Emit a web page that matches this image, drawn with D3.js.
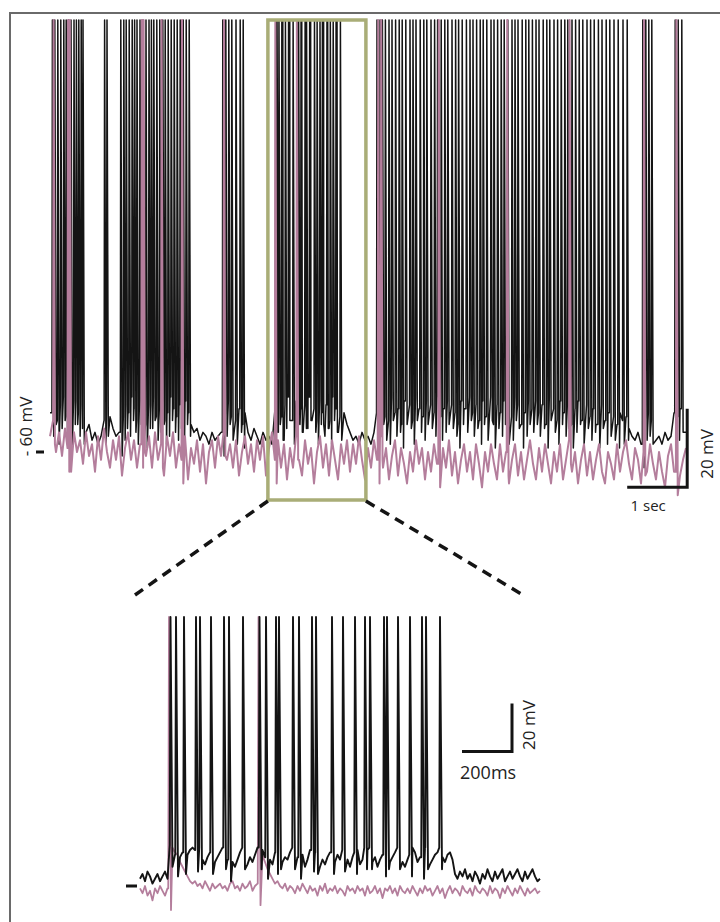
<!DOCTYPE html>
<html>
<head>
<meta charset="utf-8">
<script src="https://cdn.jsdelivr.net/npm/d3@7"></script>
<style>
  body { margin: 0; background: #fff; }
  svg { display: block; font-family: "Open Sans", "Liberation Sans", sans-serif; }
</style>
</head>
<body>
<script>
// ---- data: spike times (s) ----
// top trace, spikes outside the zoom window
let topBlackSpikes = [
  0.04, 0.08, 0.13, 0.18, 0.23, 0.27, 0.31, 0.35, 0.4, 0.44, 0.48, 0.52, 0.55,
  0.91, 0.95, 1.18, 1.23, 1.27, 1.32, 1.37, 1.41, 1.45, 1.5, 1.55, 1.6, 1.65, 1.69, 1.73,
  1.78, 1.83, 1.88, 1.92, 1.97, 2.02, 2.07, 2.12, 2.17, 2.22, 2.27, 2.32,
  2.88, 2.93, 2.98, 3.03, 3.1, 3.17, 3.22,
  5.45, 5.5, 5.54, 5.59, 5.65, 5.7, 5.76, 5.82, 5.87, 5.93, 6.0, 6.05, 6.1, 6.17, 6.23,
  6.28, 6.35, 6.41, 6.46, 6.52, 6.58, 6.63, 6.7, 6.76, 6.81, 6.87, 6.94, 7.0, 7.05, 7.11,
  7.17, 7.22, 7.28, 7.35, 7.4, 7.46, 7.52, 7.57, 7.63, 7.7, 7.75, 7.8, 7.87, 7.93, 7.98,
  8.04, 8.1, 8.15, 8.22, 8.28, 8.33, 8.4, 8.46, 8.52, 8.58, 8.63, 8.7, 8.76, 8.82, 8.88,
  8.95, 9.01, 9.07, 9.14, 9.2, 9.27, 9.33, 9.4, 9.47, 9.55, 9.62,
  9.88, 9.93, 9.98, 10.03, 10.42, 10.47, 10.53
];
let topPinkSpikes = [0.06, 0.3, 0.33, 1.53, 1.56, 1.86, 2.2, 2.9, 5.47, 5.52, 6.48, 7.62, 8.66, 9.9, 10.44];

// zoom window (green box), times relative to its start
let zoomStart = 3.64;
let zoomDur = 1.6;
let zoomBlackSpikes = [
  0.122, 0.144, 0.176, 0.224, 0.24, 0.284, 0.336, 0.356, 0.412, 0.478, 0.504, 0.544, 0.556,
  0.612, 0.636, 0.688, 0.704, 0.768, 0.812, 0.86, 0.9, 0.92, 0.976, 0.988, 1.032, 1.08,
  1.128, 1.144, 1.2
];
let zoomPinkSpikes = [0.116, 0.474];

// ---- data: membrane potential between spikes (mV) ----
let topBlackDt = 0.05;
let topBlackBase = [
  -50, -47, -52, -48, -46, -51, -49, -53, -47, -50,
  -48, -52, -55, -53, -57, -55, -58, -56, -52, -50,
  -51, -54, -56, -55, -51, -48, -50, -46, -49, -52,
  -47, -50, -53, -48, -46, -51, -49, -47, -52, -50,
  -46, -49, -51, -48, -52, -47, -50, -53, -55, -54,
  -57, -55, -56, -58, -55, -57, -56, -55, -50, -47,
  -51, -48, -52, -49, -53, -50, -55, -57, -54, -56,
  -58, -55, -57, -56, -58, -49, -47, -51, -48, -46,
  -50, -52, -47, -49, -53, -48, -46, -51, -49, -52,
  -47, -50, -48, -52, -46, -49, -51, -48, -50, -53,
  -55, -57, -56, -58, -55, -57, -56, -58, -55, -50,
  -47, -51, -48, -52, -46, -50, -49, -53, -47, -50,
  -48, -52, -46, -49, -51, -47, -53, -48, -50, -46,
  -51, -49, -47, -52, -48, -50, -53, -47, -49, -51,
  -46, -50, -48, -52, -47, -51, -49, -46, -53, -48,
  -50, -47, -52, -49, -51, -46, -48, -53, -50, -47,
  -49, -52, -47, -50, -48, -53, -46, -51, -49, -52,
  -47, -50, -48, -51, -53, -49, -47, -52, -50, -48,
  -51, -49, -53, -50, -48, -52, -50, -54, -51, -53,
  -50, -52, -51, -54, -56, -57, -55, -58, -51, -50,
  -52, -55, -57, -56, -58, -55, -57, -56, -50, -51,
  -49, -53, -55
];
let topPinkDt = 0.05;
let topPinkBase = [
  -56, -52, -60, -55, -61, -54, -59, -63, -55, -60,
  -57, -63, -55, -61, -58, -65, -56, -62, -54, -60,
  -64, -57, -62, -56, -66, -59, -55, -62, -57, -64,
  -58, -54, -61, -56, -64, -55, -62, -58, -66, -56,
  -61, -55, -64, -58, -62, -56, -67, -59, -63, -57,
  -65, -58, -68, -60, -57, -64, -56, -61, -55, -62,
  -58, -64, -57, -66, -60, -56, -63, -58, -65, -57,
  -62, -56, -66, -59, -55, -62, -57, -64, -58, -67,
  -59, -64, -56, -62, -66, -57, -63, -59, -68, -60,
  -56, -64, -58, -66, -57, -62, -67, -58, -63, -57,
  -65, -58, -63, -56, -62, -67, -59, -64, -57, -62,
  -56, -64, -59, -67, -61, -57, -66, -59, -63, -68,
  -60, -65, -57, -63, -59, -67, -60, -65, -58, -63,
  -67, -59, -64, -57, -66, -60, -68, -62, -58, -65,
  -60, -67, -58, -63, -69, -60, -65, -58, -63, -67,
  -58, -65, -60, -68, -62, -58, -66, -60, -67, -62,
  -57, -63, -67, -59, -65, -58, -63, -68, -60, -65,
  -58, -67, -62, -57, -65, -60, -68, -62, -58, -66,
  -60, -67, -62, -58, -65, -68, -60, -63, -67, -58,
  -65, -60, -57, -63, -67, -59, -62, -68, -60, -65,
  -58, -63, -67, -60, -65, -69, -61, -58, -65, -60,
  -66, -62, -59
];
let zoomDt = 0.01;
let zoomBlackBase = [
  -57, -55, -58, -54, -56, -59, -57, -55, -58, -56, -54, -57,
  -43, -45, -47, -44, -48, -46, -50, -47, -45, -44,
  -45, -47, -44, -49, -51, -48, -46, -44, -50, -48,
  -46, -44, -45, -49, -47, -50, -52, -49, -46, -44,
  -49, -51, -48, -50, -47, -44, -43, -45, -48, -44,
  -49, -51, -46, -44, -47, -50, -48, -49, -46, -44,
  -45, -48, -50, -47, -52, -49, -45, -44, -46, -50,
  -52, -49, -51, -48, -46, -44, -50, -47, -49, -45,
  -44, -49, -52, -48, -46, -45, -51, -49, -44, -45,
  -44, -50, -48, -52, -49, -47, -44, -45, -50, -48,
  -46, -44, -45, -50, -52, -49, -47, -44, -46, -50,
  -48, -45, -44, -45, -51, -49, -47, -46, -44, -48,
  -50, -47, -46, -49, -55, -57, -54, -56, -53, -57,
  -55, -58, -54, -56, -59, -55, -57, -53, -56, -58,
  -54, -57, -55, -53, -58, -56, -54, -57, -55, -53,
  -56, -58, -54, -57, -55, -53, -56, -58, -57
];
let zoomPinkBase = [
  -61, -63, -60, -64, -62, -66, -61, -63, -60, -62, -64, -61,
  -43, -44, -46, -47, -50, -52, -54, -56, -58, -59,
  -58, -60, -59, -61, -58, -60, -62, -59, -61, -60,
  -59, -61, -60, -62, -59, -58, -61, -60, -62, -59,
  -61, -60, -58, -62, -60, -59,
  -45, -47, -50, -53, -55, -57, -59, -58, -60, -61,
  -59, -62, -60, -61, -63, -60, -62, -59, -61, -63,
  -60, -62, -61, -64, -60, -62, -59, -63, -61, -62,
  -60, -63, -61, -62, -64, -60, -62, -61, -63, -60,
  -62, -61, -64, -60, -63, -62, -60, -63, -61, -65,
  -61, -62, -60, -63, -61, -64, -60, -62, -63, -61,
  -63, -60, -62, -64, -61, -63, -60, -62, -61, -64,
  -62, -60, -63, -61, -65, -62, -60, -63, -61, -62,
  -64, -60, -62, -63, -61, -64, -60, -62, -63, -61,
  -62, -64, -60, -63, -61, -62, -65, -61, -63, -60,
  -62, -64, -61, -63, -60, -62, -64, -61, -63, -62,
  -61, -63, -62
];

// ---- layout ----
let width = 720;
let height = 922;
let black = "#141414";
let pink = "#b47e9c";
let boxColor = "#a9ad77";

let svg = d3.select("body").append("svg")
    .attr("width", width).attr("height", height);

// frame
svg.append("path")
    .attr("d", "M10,922 V13 H720")
    .attr("fill", "none").attr("stroke", "#6a6a6a").attr("stroke-width", 2);

// scales
let topDur = 10.6;
let xTop = d3.scaleLinear().domain([0, topDur]).range([50, 686]);
let yTop = d3.scaleLinear().domain([-60, 50]).range([452, 20]);
let xZoom = d3.scaleLinear().domain([0, zoomDur]).range([140, 540]);
let yZoom = d3.scaleLinear().domain([-60, 52]).range([886, 617]);

// merge baseline samples with spikes (rise to peak, fall into an AHP)
function buildTrace(base, dt, spikes, o) {
    let pts = base.map((v, i) => [i * dt, v])
        .filter(p => !spikes.some(s => p[0] > s - o.rise - 1e-6 && p[0] < s + o.fall + 1e-6));
    spikes.forEach(s => {
        let k = Math.min(base.length - 1, Math.max(0, Math.floor(s / dt + 1e-6)));
        let v0 = base[k];
        pts.push([s - o.rise, v0], [s, o.peak], [s + o.fall, v0 - o.ahp]);
    });
    pts.sort((a, b) => a[0] - b[0]);
    return pts;
}

// ---- top trace ----
let allTopBlack = topBlackSpikes.concat(zoomBlackSpikes.map(t => t + zoomStart)).sort(d3.ascending);
let allTopPink = topPinkSpikes.concat(zoomPinkSpikes.map(t => t + zoomStart)).sort(d3.ascending);
let topOpt = { rise: 0.008, fall: 0.022, peak: 50, ahp: 6 };

let lineTop = d3.line().x(d => xTop(d[0])).y(d => yTop(d[1]));
let gTop = svg.append("g").attr("class", "top-trace");
gTop.append("path")
    .datum(buildTrace(topBlackBase, topBlackDt, allTopBlack, topOpt))
    .attr("d", lineTop)
    .attr("fill", "none").attr("stroke", black).attr("stroke-width", 1.5)
    .attr("stroke-linejoin", "round");
gTop.append("path")
    .datum(buildTrace(topPinkBase, topPinkDt, allTopPink, topOpt))
    .attr("d", lineTop)
    .attr("fill", "none").attr("stroke", pink).attr("stroke-width", 2)
    .attr("stroke-linejoin", "round");

// -60 mV mark and label
svg.append("rect")
    .attr("x", 36).attr("y", yTop(-60) - 1.5).attr("width", 8).attr("height", 3)
    .attr("fill", black);
svg.append("text")
    .attr("transform", `translate(32, ${yTop(-53.5)}) rotate(-90)`)
    .attr("text-anchor", "middle").attr("font-size", 17).attr("fill", "#222")
    .text("- 60 mV");

// top scale bar: 1 sec, 20 mV
let sbT = 9.62, sbV = -69;
svg.append("path")
    .attr("d", `M${xTop(sbT)},${yTop(sbV)} H${xTop(sbT + 1)} V${yTop(sbV + 20)}`)
    .attr("fill", "none").attr("stroke", black).attr("stroke-width", 3);
svg.append("text")
    .attr("x", xTop(sbT + 0.35)).attr("y", 511)
    .attr("text-anchor", "middle").attr("font-size", 15).attr("fill", "#222")
    .text("1 sec");
svg.append("text")
    .attr("transform", `translate(713, ${yTop(sbV + 8.5)}) rotate(-90)`)
    .attr("text-anchor", "middle").attr("font-size", 17).attr("fill", "#222")
    .text("20 mV");

// zoom box on the top trace
let boxX0 = xTop(zoomStart) - 0.5, boxX1 = xTop(zoomStart + zoomDur) + 1.5;
let boxY0 = yTop(50), boxY1 = 500;
svg.append("rect")
    .attr("x", boxX0).attr("y", boxY0)
    .attr("width", boxX1 - boxX0).attr("height", boxY1 - boxY0)
    .attr("fill", "none").attr("stroke", boxColor).attr("stroke-width", 3.5);

// dashed guides to the enlarged trace
[[boxX0, 135], [boxX1, 523]].forEach(d => {
    svg.append("line")
        .attr("x1", d[0]).attr("y1", boxY1 + 1)
        .attr("x2", d[1]).attr("y2", 595)
        .attr("stroke", black).attr("stroke-width", 3.5)
        .attr("stroke-dasharray", "10,7");
});

// ---- enlarged trace ----
let zoomOpt = { rise: 0.003, fall: 0.008, peak: 52, ahp: 9 };
let lineZoom = d3.line().x(d => xZoom(d[0])).y(d => yZoom(d[1]));
let gZoom = svg.append("g").attr("class", "zoom-trace");
gZoom.append("path")
    .datum(buildTrace(zoomPinkBase, zoomDt, zoomPinkSpikes, zoomOpt))
    .attr("d", lineZoom)
    .attr("fill", "none").attr("stroke", pink).attr("stroke-width", 1.8)
    .attr("stroke-linejoin", "round");
gZoom.append("path")
    .datum(buildTrace(zoomBlackBase, zoomDt, zoomBlackSpikes, zoomOpt))
    .attr("d", lineZoom)
    .attr("fill", "none").attr("stroke", black).attr("stroke-width", 1.9)
    .attr("stroke-linejoin", "round");

svg.append("rect")
    .attr("x", 126).attr("y", yZoom(-60) - 1.5).attr("width", 11).attr("height", 3)
    .attr("fill", black);

// zoom scale bar: 200 ms, 20 mV
let zsT = 1.288, zsV = -4;
svg.append("path")
    .attr("d", `M${xZoom(zsT)},${yZoom(zsV)} H${xZoom(zsT + 0.2)} V${yZoom(zsV + 20)}`)
    .attr("fill", "none").attr("stroke", black).attr("stroke-width", 3);
svg.append("text")
    .attr("x", xZoom(zsT) - 2).attr("y", 779)
    .attr("font-size", 18).attr("fill", "#222")
    .text("200ms");
svg.append("text")
    .attr("transform", `translate(535, ${yZoom(zsV + 11)}) rotate(-90)`)
    .attr("text-anchor", "middle").attr("font-size", 17).attr("fill", "#222")
    .text("20 mV");
</script>
</body>
</html>
